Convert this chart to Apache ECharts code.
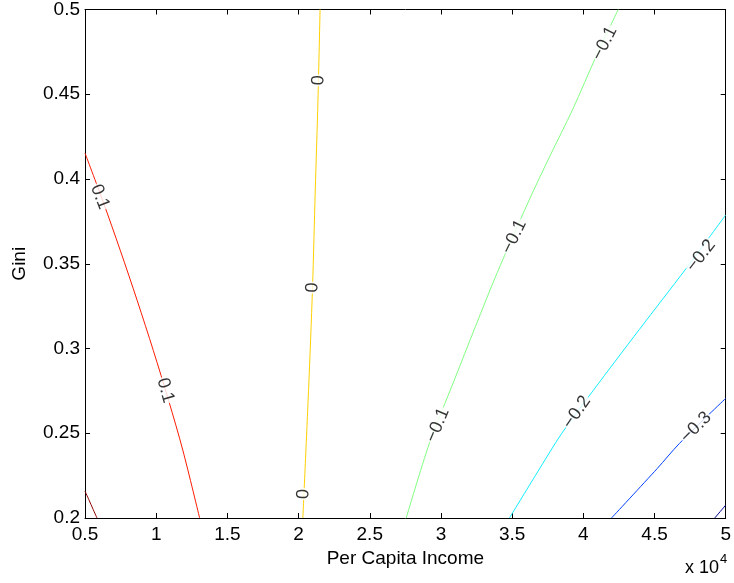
<!DOCTYPE html>
<html>
<head>
<meta charset="utf-8">
<script src="https://cdn.jsdelivr.net/npm/echarts@6/dist/echarts.min.js"></script>
<style>
html,body{margin:0;padding:0;background:#fff;}
#chart{width:734px;height:583px;}
</style>
</head>
<body>
<div id="chart"></div>
<script>
// Contour levels and colours
const levels = ['0.2', '0.1', '0', '-0.1', '-0.2', '-0.3', '-0.4'];
const levelColors = ['#8f0000', '#ff1a00', '#ffd000', '#80ff80', '#10eeff', '#0040ff', '#000090'];

// Contour line points [income (x10^4), gini]
const c02 = [[0.5, 0.2159], [0.584, 0.2]];
const c01 = [[0.5, 0.4153], [0.625, 0.3871], [0.749, 0.3576], [0.867, 0.3282], [0.980, 0.2988], [1.087, 0.2694], [1.187, 0.2400], [1.305, 0.2]];
const c00 = [[2.151, 0.5], [2.136, 0.4459], [2.117, 0.3929], [2.098, 0.3359], [2.070, 0.2753], [2.030, 0.2]];
const cm01 = [[4.245, 0.5], [4.090, 0.4724], [3.926, 0.4412], [3.765, 0.4135], [3.617, 0.3871], [3.395, 0.3447], [3.242, 0.3129], [3.093, 0.2812], [2.919, 0.2441], [2.756, 0.2]];
const cm02 = [[5.0, 0.3788], [4.721, 0.3471], [4.393, 0.3112], [4.070, 0.2753], [3.849, 0.25], [3.674, 0.2265], [3.481, 0.2]];
const cm03 = [[5.0, 0.2706], [4.674, 0.2439], [4.519, 0.2292], [4.198, 0.2]];
const cm04 = [[5.0, 0.2076], [4.923, 0.2]];
const contours = [c02, c01, c00, cm01, cm02, cm03, cm04];

// In-line contour labels: position, text, rotation
const labelX = [0.605, 1.065, 2.140, 2.098, 2.035, 4.149, 3.514, 2.977, 4.826, 3.954, 4.791];
const labelY = [0.3894, 0.2753, 0.4582, 0.3359, 0.2141, 0.480, 0.3659, 0.2547, 0.3547, 0.2624, 0.2535];
const labelText = ['0.1', '0.1', '0', '0', '0', '\u22120.1', '\u22120.1', '\u22120.1', '\u22120.2', '\u22120.2', '\u22120.3'];
const labelRot = [-69, -74, 88, 88, 88, 63, 64, 67, 52, 55, 45];

const FONT = "'Liberation Sans', Arial, Helvetica, sans-serif";

const chart = echarts.init(document.getElementById('chart'), null, {renderer: 'canvas'});

const series = contours.map((pts, i) => ({
  type: 'line',
  name: levels[i],
  data: pts,
  showSymbol: false,
  symbol: 'none',
  smooth: 0.3,
  lineStyle: {color: levelColors[i], width: 1},
  silent: true,
  z: 2
}));

series.push({
  type: 'scatter',
  symbolSize: 0,
  silent: true,
  z: 5,
  data: labelX.map((x, i) => ({
    value: [x, labelY[i]],
    label: {
      show: true,
      position: 'inside',
      formatter: labelText[i],
      rotate: labelRot[i],
      fontSize: 18,
      fontFamily: FONT,
      color: '#000',
      backgroundColor: '#fff',
      padding: [0, 1]
    }
  }))
});

const commonAxisLine = {show: true, onZero: false, lineStyle: {color: '#000', width: 1}};
const commonTick = {show: true, inside: true, length: 5, lineStyle: {color: '#000', width: 1}};

const option = {
  backgroundColor: '#fff',
  animation: false,
  grid: {left: 85, right: 4, top: 8, bottom: 65, containLabel: false},
  xAxis: [{
    type: 'value',
    min: 0.5, max: 5, interval: 0.5,
    position: 'bottom',
    axisLine: commonAxisLine,
    axisTick: commonTick,
    splitLine: {show: false},
    axisLabel: {fontSize: 19, fontFamily: FONT, color: '#000', margin: 7,
      formatter: v => String(+v.toFixed(2))},
    name: 'Per Capita Income',
    nameLocation: 'middle',
    nameGap: 29,
    nameTextStyle: {fontSize: 19, fontFamily: FONT, color: '#000'}
  }, {
    type: 'value',
    min: 0.5, max: 5, interval: 0.5,
    position: 'top',
    axisLine: commonAxisLine,
    axisTick: commonTick,
    splitLine: {show: false},
    axisLabel: {show: false}
  }],
  yAxis: [{
    type: 'value',
    min: 0.2, max: 0.5, interval: 0.05,
    position: 'left',
    axisLine: commonAxisLine,
    axisTick: commonTick,
    splitLine: {show: false},
    axisLabel: {fontSize: 19, fontFamily: FONT, color: '#000', margin: 5,
      formatter: v => String(+v.toFixed(2))},
    name: 'Gini',
    nameLocation: 'middle',
    nameGap: 56,
    nameRotate: 90,
    nameTextStyle: {fontSize: 19, fontFamily: FONT, color: '#000'}
  }, {
    type: 'value',
    min: 0.2, max: 0.5, interval: 0.05,
    position: 'right',
    axisLine: commonAxisLine,
    axisTick: commonTick,
    splitLine: {show: false},
    axisLabel: {show: false}
  }],
  graphic: [{
    type: 'text',
    left: 685,
    top: 553,
    style: {
      text: '{a|x 10}{b|4}',
      rich: {
        a: {fontSize: 18, fontFamily: FONT, fill: '#000', verticalAlign: 'bottom', padding: [6, 0, 0, 0]},
        b: {fontSize: 13, fontFamily: FONT, fill: '#000', verticalAlign: 'top', padding: [0, 0, 10, 1]}
      }
    }
  }],
  series: series
};

chart.setOption(option);
</script>
</body>
</html>
